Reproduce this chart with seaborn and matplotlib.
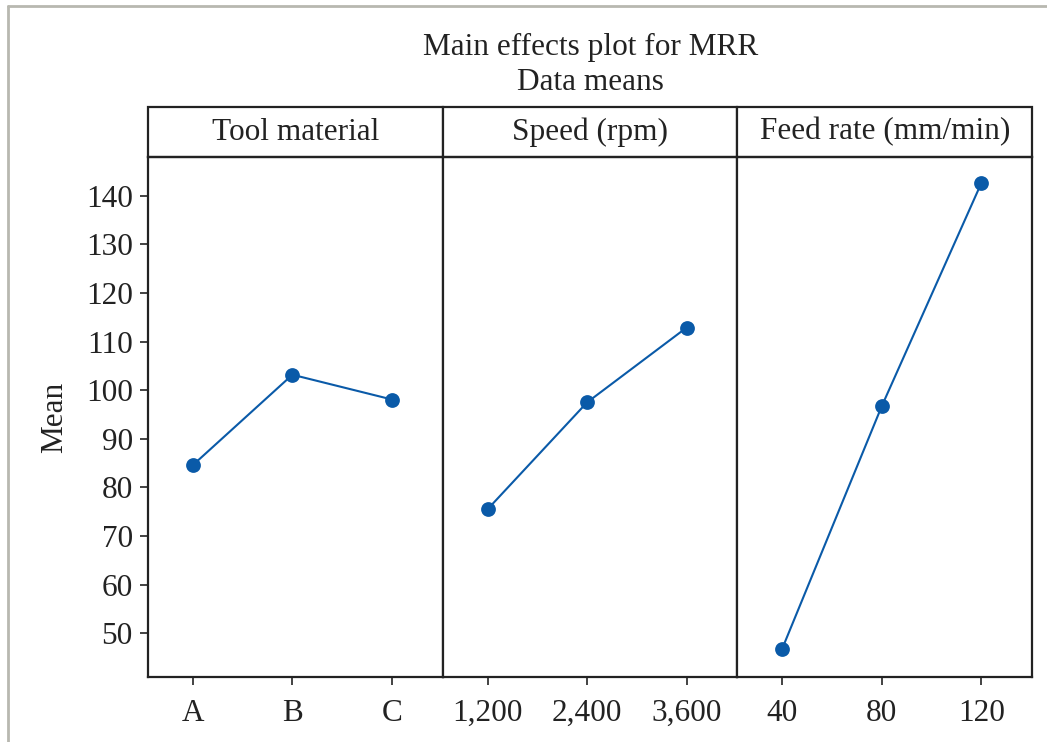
import pandas as pd
import matplotlib.pyplot as plt
import seaborn as sns
from matplotlib.patches import Rectangle
from matplotlib.lines import Line2D

# data
factors = ["Tool material", "Speed (rpm)", "Feed rate (mm/min)"]
tool_levels = ["A", "B", "C"]
tool_means = [84.6, 103.2, 98.1]
speed_levels = ["1,200", "2,400", "3,600"]
speed_means = [75.5, 97.5, 112.9]
feed_levels = ["40", "80", "120"]
feed_means = [46.8, 96.7, 142.6]
yticks = [50, 60, 70, 80, 90, 100, 110, 120, 130, 140]

sns.set_theme(style="white")
plt.rcParams["font.family"] = ["Liberation Serif", "DejaVu Serif"]
plt.rcParams["axes.edgecolor"] = "#222222"

levels = [tool_levels, speed_levels, feed_levels]
means = [tool_means, speed_means, feed_means]
fs = 22.5

fig, axes = plt.subplots(1, 3, figsize=(10.47, 7.42), dpi=100, sharey=True)
fig.subplots_adjust(left=0.1414, right=0.9857, bottom=0.0876, top=0.7884, wspace=0)

line_col = "#0a5aa8"
for i, ax in enumerate(axes):
    df = pd.DataFrame({"level": levels[i], "mean": means[i]})
    sns.pointplot(data=df, x="level", y="mean", order=levels[i], color=line_col,
                  markers="o", markersize=9.5, linewidth=1.5, ax=ax)
    ax.set_xlim(-0.45, 2.51)
    ax.set_xlabel("")
    ax.set_ylabel("")
    for s in ax.spines.values():
        s.set_linewidth(1.6)
        s.set_color("#222222")
    ax.tick_params(axis="x", bottom=True, length=6, width=1.2, labelsize=fs,
                   pad=10, colors="#222222")
    ax.tick_params(axis="y", left=(i == 0), length=6, width=1.2, labelsize=fs,
                   pad=5, colors="#222222")
    # header box
    ax.add_patch(Rectangle((0, 1), 1, 0.096, transform=ax.transAxes,
                           facecolor="white", edgecolor="#222222", lw=1.6,
                           clip_on=False))
    ax.text(0.5, 1.048, factors[i], transform=ax.transAxes, ha="center",
            va="center", fontsize=fs, color="#222222")

axes[0].set_ylim(41, 148)
axes[0].set_yticks(yticks)
axes[0].set_ylabel("Mean", fontsize=fs, color="#222222", labelpad=12)

fig.text(0.564, 0.936, "Main effects plot for MRR", ha="center", va="center",
         fontsize=fs, color="#222222")
fig.text(0.564, 0.889, "Data means", ha="center", va="center",
         fontsize=fs, color="#222222")

# grey frame around the picture
fig.add_artist(Line2D([0.0081, 0.0081], [0, 0.9913], transform=fig.transFigure,
                      color="#b8b8b0", lw=2))
fig.add_artist(Line2D([0.0081, 1], [0.9913, 0.9913], transform=fig.transFigure,
                      color="#b8b8b0", lw=2))

plt.savefig("out.png", dpi=100)
plt.close(fig)
